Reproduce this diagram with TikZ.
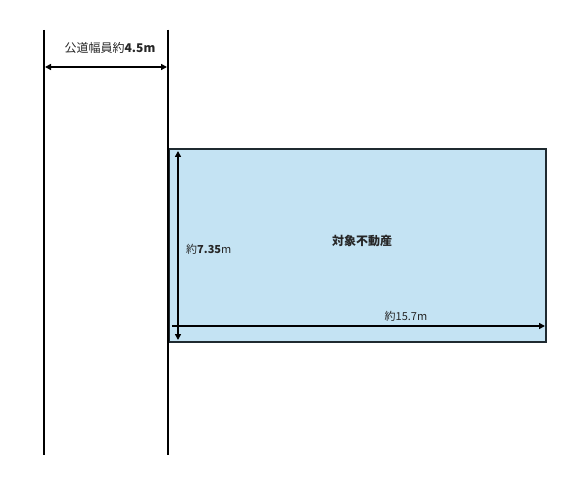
\documentclass[tikz,border=0pt]{standalone}
\usepackage{fontspec}
\newfontfamily\cjk{Noto Sans CJK JP}
\usetikzlibrary{arrows.meta}
\definecolor{lotfill}{HTML}{C4E3F3}
\definecolor{lotedge}{HTML}{1F2A30}
\tikzset{
  road/.style={line width=1.8pt, black},
  dim/.style={line width=1.6pt, black, {Triangle[length=6pt,width=6pt]}-{Triangle[length=6pt,width=6pt]}},
  dimr/.style={line width=1.6pt, black, -{Triangle[length=6pt,width=6pt]}},
  lbl/.style={font=\cjk\fontsize{11}{13}\selectfont, inner sep=0pt, text=black!85},
}
\begin{document}
\begin{tikzpicture}[x=1pt,y=-1pt]
\useasboundingbox (0,0) rectangle (586,478);
% road edges
\coordinate (rl1) at (44,30);
\coordinate (rl2) at (44,455);
\coordinate (rr1) at (168,30);
\coordinate (rr2) at (168,455);
\draw[road] (rl1) -- (rl2);
\draw[road] (rr1) -- (rr2);
% road width
\coordinate (wa) at (45,67);
\coordinate (wb) at (167,67);
\draw[dim] (wa) -- (wb);
\node[lbl, font=\cjk\fontsize{12}{14}\selectfont] (wl) at (110,48) {公道幅員約\textbf{4.5m}};
% lot
\node[draw=lotedge, line width=1.6pt, fill=lotfill, minimum width=377pt, minimum height=193pt, inner sep=0pt, anchor=north west] (lot) at (168,148) {};
\draw[road] (rr1) -- (rr2);
% depth dimension
\coordinate (da) at (178,151);
\coordinate (db) at (178,340);
\draw[dim] (da) -- (db);
\node[lbl, anchor=west] (dl) at (186,249) {約\textbf{7.35}m};
% frontage dimension
\coordinate (fa) at (172,326);
\coordinate (fb) at (545,326);
\draw[dimr] (fa) -- (fb);
\node[lbl] (fl) at (406,316) {約15.7m};
% title
\node[lbl, font=\cjk\bfseries\fontsize{12}{14}\selectfont] (tl) at (362,241) {対象不動産};
\end{tikzpicture}
\end{document}
